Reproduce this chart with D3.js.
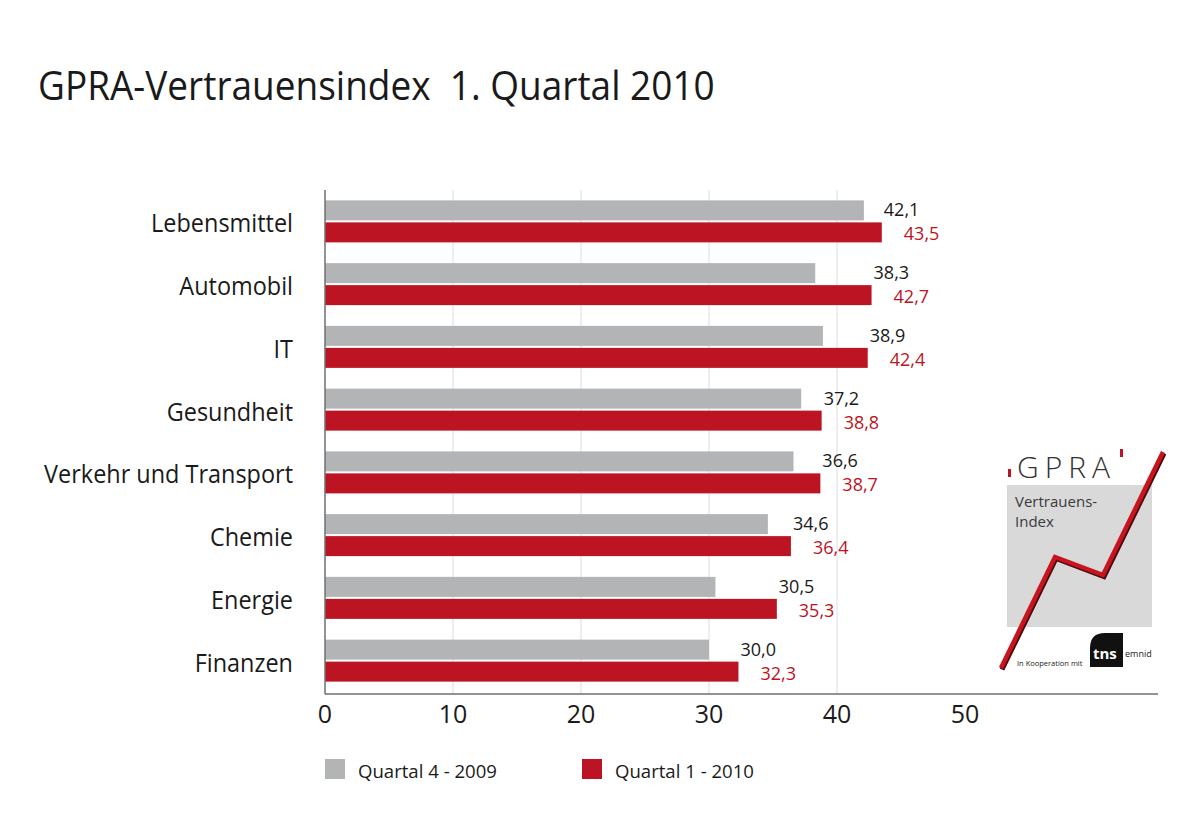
<!DOCTYPE html>
<html>
<head>
<meta charset="utf-8">
<script src="https://cdn.jsdelivr.net/npm/d3@7"></script>
<style>
  html, body { margin: 0; padding: 0; background: #ffffff; }
  svg { display: block; }
  text { font-family: "Open Sans", "Noto Sans", sans-serif; }
</style>
</head>
<body>
<svg id="chart" width="1200" height="840"></svg>
<script>
// ---------- data ----------
const titleText = "GPRA-Vertrauensindex  1. Quartal 2010";
const categories = ["Lebensmittel", "Automobil", "IT", "Gesundheit", "Verkehr und Transport", "Chemie", "Energie", "Finanzen"];
const q4_2009 = [42.1, 38.3, 38.9, 37.2, 36.6, 34.6, 30.5, 30.0];
const q1_2010 = [43.5, 42.7, 42.4, 38.8, 38.7, 36.4, 35.3, 32.3];
const seriesNames = ["Quartal 4 - 2009", "Quartal 1 - 2010"];
const xTicks = [0, 10, 20, 30, 40, 50];

// ---------- style ----------
const GRAY = "#b3b4b6";
const RED = "#bc1422";
const TEXT = "#1a1a1a";

const svg = d3.select("#chart");
const fmt = d3.formatLocale({decimal: ",", thousands: ".", grouping: [3], currency: ["", "€"]}).format(".1f");

// horizontally condense a selection of texts (positioned via data-x/data-y) by a common factor
function condense(sel, factor) {
  sel.each(function() {
    const t = d3.select(this);
    const px = +t.attr("data-x"), py = +t.attr("data-y");
    t.attr("x", 0).attr("y", 0).attr("transform", `translate(${px},${py}) scale(${factor},1)`);
  });
}
function factorFor(node, target) {
  const w = node.getComputedTextLength();
  return Math.min(1.15, target / w);
}

// plot frame
const x0 = 325, yTop = 190, yBot = 694, xAxisEnd = 1158;
const x = d3.scaleLinear().domain([0, 50]).range([x0, x0 + 640]);
const y = d3.scaleBand().domain(categories).range([yTop, yBot - 2]);
const barH = 20, barGap = 2;
const inner = (y.bandwidth() - (2 * barH + barGap)) / 2;

// title
const title = svg.append("text").attr("class", "title")
  .attr("x", 38).attr("y", 100).attr("data-x", 38).attr("data-y", 100)
  .attr("font-size", 40).attr("fill", TEXT)
  .style("white-space", "pre")
  .text(titleText);
condense(title, factorFor(title.node(), 677));

// gridlines
svg.append("g").selectAll("line").data(xTicks.filter(d => d > 0 && d < 50))
  .join("line")
  .attr("x1", d => x(d)).attr("x2", d => x(d))
  .attr("y1", yTop).attr("y2", yBot)
  .attr("stroke", "#e3e3e3").attr("stroke-width", 1.2);

// bars
const rows = categories.map((c, i) => ({c, a: q4_2009[i], b: q1_2010[i]}));
const g = svg.append("g");
g.selectAll("rect.q4").data(rows).join("rect").attr("class", "q4")
  .attr("x", x(0)).attr("y", d => y(d.c) + inner)
  .attr("width", d => x(d.a) - x(0)).attr("height", barH)
  .attr("fill", GRAY);
g.selectAll("rect.q1").data(rows).join("rect").attr("class", "q1")
  .attr("x", x(0)).attr("y", d => y(d.c) + inner + barH + barGap)
  .attr("width", d => x(d.b) - x(0)).attr("height", barH)
  .attr("fill", RED);

// value labels
g.selectAll("text.v4").data(rows).join("text").attr("class", "v4")
  .attr("x", d => x(Math.max(d.a, d.b)) + 2)
  .attr("y", d => y(d.c) + inner + barH / 2 + 6)
  .attr("font-size", 18).attr("fill", TEXT)
  .text(d => fmt(d.a));
g.selectAll("text.v1").data(rows).join("text").attr("class", "v1")
  .attr("x", d => x(Math.max(d.a, d.b)) + 22)
  .attr("y", d => y(d.c) + inner + barH + barGap + barH / 2 + 8)
  .attr("font-size", 18).attr("fill", RED)
  .text(d => fmt(d.b));

// category labels
const cats = svg.append("g").selectAll("text").data(categories).join("text")
  .attr("data-x", 293).attr("data-y", d => y(d) + y.bandwidth() / 2 + 11)
  .attr("text-anchor", "end").attr("font-size", 26).attr("fill", TEXT)
  .text(d => d);
const longest = cats.filter(d => d === "Verkehr und Transport").node();
condense(cats, factorFor(longest, 249));

// axes lines
svg.append("line").attr("x1", x0).attr("x2", x0).attr("y1", yTop).attr("y2", yBot)
  .attr("stroke", "#6f6f6f").attr("stroke-width", 1.5);
svg.append("line").attr("x1", x0).attr("x2", xAxisEnd).attr("y1", yBot).attr("y2", yBot)
  .attr("stroke", "#6f6f6f").attr("stroke-width", 1.5);

// x tick labels
svg.append("g").selectAll("text").data(xTicks).join("text")
  .attr("x", d => x(d)).attr("y", 723)
  .attr("text-anchor", "middle").attr("font-size", 25).attr("fill", TEXT)
  .text(d => d);

// legend
const legendX = [325, 582];
const lg = svg.append("g").selectAll("g").data(seriesNames).join("g")
  .attr("transform", (d, i) => `translate(${legendX[i]},759)`);
lg.append("rect").attr("width", 20).attr("height", 20).attr("fill", (d, i) => i ? RED : GRAY);
const lt = lg.append("text").attr("data-x", 33).attr("data-y", 19).attr("font-size", 18).attr("fill", TEXT).text(d => d);
condense(lt, factorFor(lt.node(), 139));

// ---------- GPRA logo (decorative) ----------
const logo = svg.append("g");
logo.append("rect").attr("x", 1007).attr("y", 485).attr("width", 145).attr("height", 142).attr("fill", "#d9d9da");
logo.append("text").attr("x", 1017).attr("y", 478).attr("font-size", 30)
  .attr("font-family", "'DejaVu Sans', sans-serif").attr("font-weight", 200)
  .attr("letter-spacing", 6).attr("fill", "#333").text("GPRA");
logo.append("rect").attr("x", 1008).attr("y", 469).attr("width", 3).attr("height", 8).attr("fill", RED);
logo.append("rect").attr("x", 1120).attr("y", 449).attr("width", 3).attr("height", 8).attr("fill", RED);
logo.append("text").attr("x", 1015).attr("y", 507).attr("font-size", 15).attr("fill", "#3a3a3a")
  .attr("font-family", "'Liberation Sans', sans-serif").text("Vertrauens-");
logo.append("text").attr("x", 1015).attr("y", 527).attr("font-size", 15).attr("fill", "#3a3a3a")
  .attr("font-family", "'Liberation Sans', sans-serif").text("Index");
const zig = [[1001, 668], [1055, 557], [1103, 575], [1163, 452]];
logo.append("polyline").attr("points", zig.map(p => [p[0] + 1, p[1] + 1.5].join(",")).join(" "))
  .attr("fill", "none").attr("stroke", "#4a0a0e").attr("stroke-width", 5).attr("stroke-linejoin", "miter");
logo.append("polyline").attr("points", zig.map(p => p.join(",")).join(" "))
  .attr("fill", "none").attr("stroke", "#c8141f").attr("stroke-width", 4.5).attr("stroke-linejoin", "miter");
logo.append("text").attr("x", 1017).attr("y", 666).attr("font-size", 7.5).attr("fill", "#222")
  .attr("font-family", "'Liberation Sans', sans-serif").text("In Kooperation mit");
logo.append("path").attr("d", "M1090,667 L1090,648 Q1090,633 1105,633 L1123,633 L1123,667 Z").attr("fill", "#111");
logo.append("text").attr("x", 1093).attr("y", 659).attr("font-size", 15).attr("font-weight", 700)
  .attr("fill", "#fff").attr("font-family", "'DejaVu Sans', sans-serif").text("tns");
logo.append("text").attr("x", 1125).attr("y", 657).attr("font-size", 9).attr("fill", "#222")
  .attr("font-family", "'Liberation Sans', sans-serif").text("emnid");
</script>
</body>
</html>
